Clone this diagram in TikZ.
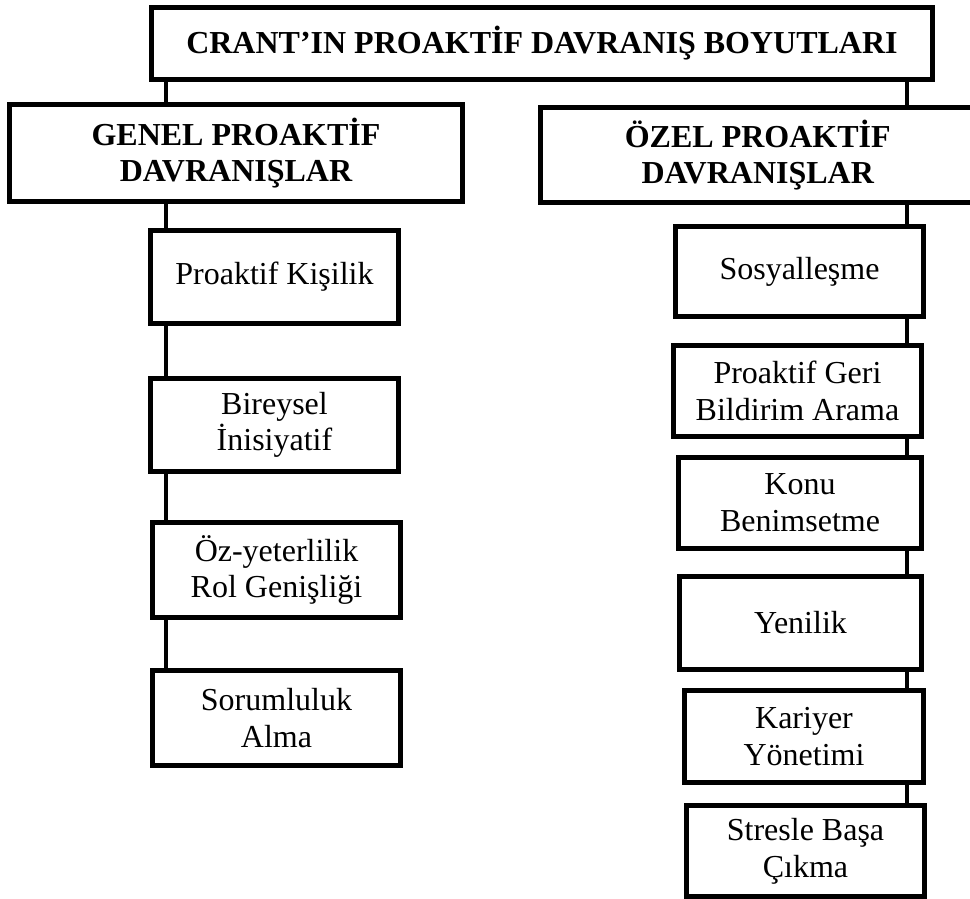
\documentclass[tikz,border=0pt]{standalone}
\usepackage{fontspec}
\setmainfont{Liberation Serif}
\begin{document}
\begin{tikzpicture}[x=1pt,y=1pt,
  box/.style={draw=drawColor,line width=5pt,fill=fillColor,inner sep=0pt,align=center,font=\fontsize{32}{36.7}\selectfont},
  headbox/.style={box,font=\fontsize{32}{36.7}\selectfont\bfseries},
  link/.style={draw=drawColor,line width=4.5pt}]
\definecolor{fillColor}{RGB}{255,255,255}
\definecolor{drawColor}{RGB}{0,0,0}
\path[use as bounding box,fill=fillColor] (0,0) rectangle (970,899);
\begin{scope}
\path[clip] (0,0) rectangle (970,899);

\coordinate (lx) at (166,0);

\coordinate (rx) at (907,0);

\node[headbox,minimum width=781pt,minimum height=72pt] (root) at (542,855.5) {CRANT’IN PROAKTİF DAVRANIŞ BOYUTLARI};

\node[headbox,minimum width=453pt,minimum height=97pt] (genel) at (236,746) {GENEL PROAKTİF\\DAVRANIŞLAR};

\node[headbox,minimum width=434.5pt,minimum height=95pt] (ozel) at (757.75,744) {ÖZEL PROAKTİF\\DAVRANIŞLAR};

\node[box,minimum width=248pt,minimum height=93pt] (kisilik) at (274.5,622) {Proaktif Kişilik};

\node[box,minimum width=248pt,minimum height=93pt] (inisiyatif) at (274.5,474) {Bireysel\\İnisiyatif};

\node[box,minimum width=248pt,minimum height=95pt] (yeterlilik) at (276.5,329) {Öz-yeterlilik\\Rol Genişliği};

\node[box,minimum width=248pt,minimum height=95pt] (sorumluluk) at (276.5,181) {Sorumluluk\\Alma};

\node[box,minimum width=248pt,minimum height=90pt] (sosyal) at (799.5,627.5) {Sosyalleşme};

\node[box,minimum width=248pt,minimum height=91pt] (geribildirim) at (797.5,508) {Proaktif Geri\\Bildirim Arama};

\node[box,minimum width=243pt,minimum height=91pt] (konu) at (800,396) {Konu\\Benimsetme};

\node[box,minimum width=242pt,minimum height=93pt] (yenilik) at (800.5,276) {Yenilik};

\node[box,minimum width=239pt,minimum height=92pt] (kariyer) at (804,162.5) {Kariyer\\Yönetimi};

\node[box,minimum width=238pt,minimum height=91pt] (stres) at (805.5,48) {Stresle Başa\\Çıkma};

\path[link] (root.south -| lx) -- (genel.north -| lx);

\path[link] (genel.south -| lx) -- (kisilik.north -| lx);

\path[link] (kisilik.south -| lx) -- (inisiyatif.north -| lx);

\path[link] (inisiyatif.south -| lx) -- (yeterlilik.north -| lx);

\path[link] (yeterlilik.south -| lx) -- (sorumluluk.north -| lx);

\path[link] (root.south -| rx) -- (ozel.north -| rx);

\path[link] (ozel.south -| rx) -- (sosyal.north -| rx);

\path[link] (sosyal.south -| rx) -- (geribildirim.north -| rx);

\path[link] (geribildirim.south -| rx) -- (konu.north -| rx);

\path[link] (konu.south -| rx) -- (yenilik.north -| rx);

\path[link] (yenilik.south -| rx) -- (kariyer.north -| rx);

\path[link] (kariyer.south -| rx) -- (stres.north -| rx);
\end{scope}
\end{tikzpicture}
\end{document}
